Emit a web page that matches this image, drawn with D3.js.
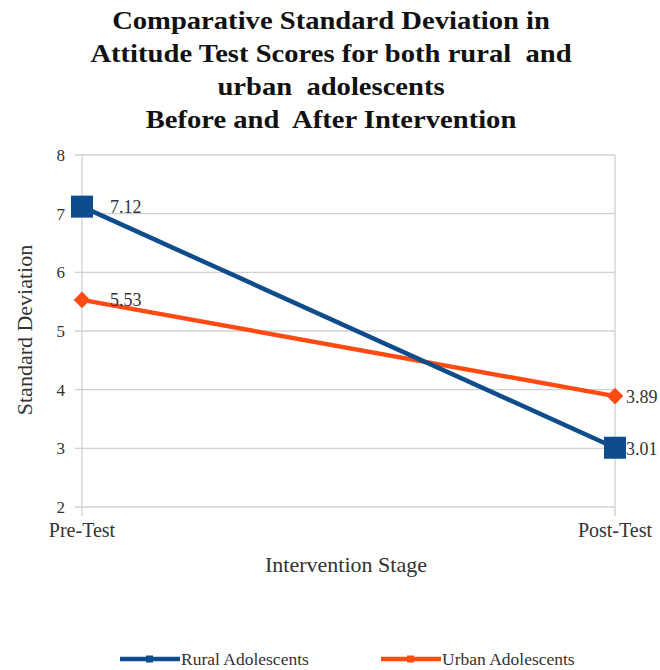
<!DOCTYPE html>
<html><head><meta charset="utf-8">
<script src="https://cdn.jsdelivr.net/npm/d3@7"></script>
<style>body{margin:0;background:#fff}svg{display:block}</style>
</head><body>
<svg id="c" width="660" height="670"></svg>
<script>
const categories = ["Pre-Test", "Post-Test"];
const rural = [7.12, 3.01];
const urban = [5.53, 3.89];
const seriesNames = ["Rural Adolescents", "Urban Adolescents"];
const yTicks = [2, 3, 4, 5, 6, 7, 8];
const titleLines = ["Comparative Standard Deviation in", "Attitude Test Scores for both rural  and", "urban  adolescents", "Before and  After Intervention"];

const svg = d3.select("#c");
const font = "Liberation Serif";
const blue = "#0F4C8C", orange = "#FF4A12", grid = "#d0d0d0", txt = "#333";

const x = d3.scalePoint().domain(categories).range([82, 615]);
const y = d3.scaleLinear().domain([2, 8]).range([507, 155]);

// title
svg.append("g").attr("transform", "translate(331,0) scale(1.1,1)")
  .selectAll("text").data(titleLines).join("text")
  .attr("x", 0).attr("y", (d, i) => 29 + i * 33)
  .attr("text-anchor", "middle")
  .style("font-family", font).style("font-weight", "700").style("font-size", "26px")
  .style("white-space", "pre")
  .attr("fill", "#111")
  .text(d => d);

// gridlines
svg.append("g").selectAll("line").data(yTicks).join("line")
  .attr("x1", 75).attr("x2", 615)
  .attr("y1", d => y(d)).attr("y2", d => y(d))
  .attr("stroke", grid).attr("stroke-width", 1.3);
// vertical lines at categories
svg.append("g").selectAll("line").data(categories).join("line")
  .attr("x1", d => x(d)).attr("x2", d => x(d))
  .attr("y1", y(8)).attr("y2", y(2) + 9)
  .attr("stroke", grid).attr("stroke-width", 1.3);

// y tick labels
svg.append("g").selectAll("text").data(yTicks).join("text")
  .attr("x", 65).attr("y", d => y(d) + 6)
  .attr("text-anchor", "end").style("font-family", font)
  .style("font-size", "17px").attr("fill", txt).text(d => d);

// x labels
svg.append("g").selectAll("text").data(categories).join("text")
  .attr("x", d => x(d)).attr("y", 537)
  .attr("text-anchor", "middle").style("font-family", font)
  .style("font-size", "20px").attr("fill", txt).text(d => d);

// axis titles
svg.append("text").attr("x", 346).attr("y", 572).attr("text-anchor", "middle")
  .style("font-family", font).style("font-size", "22px").attr("fill", txt).text("Intervention Stage");
svg.append("text").attr("transform", "translate(32,330) rotate(-90)").attr("text-anchor", "middle")
  .style("font-family", font).style("font-size", "22px").attr("fill", txt).text("Standard Deviation");

const line = d3.line().x((d, i) => x(categories[i])).y(d => y(d));

// urban line
svg.append("path").datum(urban).attr("d", line).attr("fill", "none")
  .attr("stroke", orange).attr("stroke-width", 4.5);
// rural line
svg.append("path").datum(rural).attr("d", line).attr("fill", "none")
  .attr("stroke", blue).attr("stroke-width", 4.5);

// urban markers (diamond)
svg.append("g").selectAll("path").data(urban).join("path")
  .attr("transform", (d, i) => `translate(${x(categories[i])},${y(d)})`)
  .attr("d", d3.symbol(d3.symbolDiamond2, 175)())
  .attr("fill", orange);
// rural markers (square)
svg.append("g").selectAll("rect").data(rural).join("rect")
  .attr("x", (d, i) => x(categories[i]) - 11).attr("y", d => y(d) - 11)
  .attr("width", 22).attr("height", 22).attr("fill", blue);

// data labels
const lbl = (data, dx, dy) => svg.append("g").selectAll("text").data(data).join("text")
  .attr("x", (d, i) => x(categories[i]) + dx[i]).attr("y", (d, i) => y(d) + dy[i])
  .style("font-family", font).style("font-size", "18px").attr("fill", txt)
  .text(d => d.toFixed(2));
lbl(rural, [28, 11], [6, 7]);
lbl(urban, [28, 11], [6, 7]);

// legend
const leg = [{n: seriesNames[0], c: blue, x: 120}, {n: seriesNames[1], c: orange, x: 381}];
const lg = svg.append("g").selectAll("g").data(leg).join("g")
  .attr("transform", d => `translate(${d.x},659)`);
lg.append("line").attr("x1", 0).attr("x2", 60).attr("stroke", d => d.c).attr("stroke-width", 4.5);
lg.append("rect").attr("x", 26).attr("y", -3.5).attr("width", 7).attr("height", 7).attr("fill", d => d.c);
lg.append("text").attr("x", 61).attr("y", 6).style("font-family", font).style("font-size", "17.5px")
  .attr("fill", txt).text(d => d.n);
</script>
</body></html>
